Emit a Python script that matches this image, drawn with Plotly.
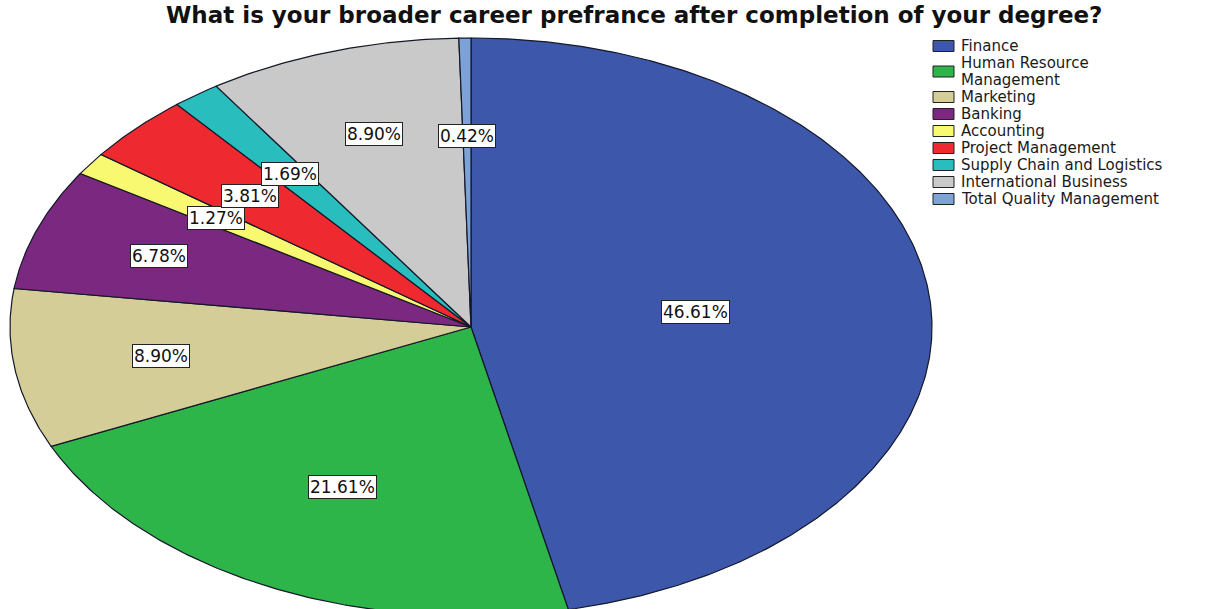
import numpy as np
import plotly.graph_objects as go

# Career preference shares (% of respondents)
categories = [
    "Finance",
    "Human Resource Management",
    "Marketing",
    "Banking",
    "Accounting",
    "Project Management",
    "Supply Chain and Logistics",
    "International Business",
    "Total Quality Management",
]
shares = [46.61, 21.61, 8.90, 6.78, 1.27, 3.81, 1.69, 8.90, 0.42]

title_text = "What is your broader career prefrance after completion of your degree?"

# Styling
colors = ["#3D57AB", "#2DB54A", "#D4CD97", "#7A2880", "#F9F871",
          "#EE2A30", "#2ABDBE", "#C9C9C9", "#7CA2D8"]
edge_color = "#141828"
label_radius = [0.49, 0.62, 0.68, 0.72, 0.67, 0.66, 0.66, 0.70, 0.66]

W, H = 1222, 609
CX, CY = 471, 327          # pie centre (axis units = pixels)
RX, RY = 461, 289          # elliptical radii
FONT = "DejaVu Sans"

fig = go.Figure()

total = sum(shares)
start = 0.0
label_pos = []
for name, val, col, lr in zip(categories, shares, colors, label_radius):
    a0 = start / total * 2 * np.pi
    a1 = (start + val) / total * 2 * np.pi
    t = np.linspace(a0, a1, max(int(val * 8), 4))
    xs = np.concatenate([[CX], CX + RX * np.sin(t), [CX]])
    ys = np.concatenate([[CY], CY - RY * np.cos(t), [CY]])
    fig.add_trace(go.Scatter(
        x=xs, y=ys, mode="lines", fill="toself", fillcolor=col,
        line=dict(color=edge_color, width=1.2), name=name,
        showlegend=False, hoverinfo="name",
    ))
    mid = (a0 + a1) / 2
    label_pos.append((CX + lr * RX * np.sin(mid), CY - lr * RY * np.cos(mid)))
    start += val

# Percentage labels in boxed callouts
for val, (lx, ly) in zip(shares, label_pos):
    fig.add_annotation(
        x=lx, y=ly, xref="x", yref="y", text=f"{val:.2f}%", showarrow=False,
        font=dict(family=FONT, size=17, color="#111111"),
        bgcolor="white", bordercolor="#222222", borderwidth=1, borderpad=1,
    )

# Legend drawn as swatches + text, one text line every 17 px
LINE = 17
sw_x0, sw_x1, text_x = 933, 954, 959
y_cursor = 46
for name, col in zip(categories, colors):
    lines = ["Human Resource", "Management"] if name == "Human Resource Management" else [name]
    yc = y_cursor + (len(lines) - 1) * LINE / 2
    fig.add_shape(type="rect", xref="x", yref="y",
                  x0=sw_x0, x1=sw_x1, y0=yc - 5.5, y1=yc + 5.5,
                  fillcolor=col, line=dict(color="#222222", width=1))
    for txt in lines:
        fig.add_annotation(x=text_x, y=y_cursor, xref="x", yref="y", text=txt,
                           showarrow=False, xanchor="left", yanchor="middle",
                           font=dict(family=FONT, size=15, color="#1a1a1a"))
        y_cursor += LINE

fig.add_annotation(
    x=633.5, y=15, xref="x", yref="y", text=f"<b>{title_text}</b>",
    showarrow=False, xanchor="center", yanchor="middle",
    font=dict(family=FONT, size=23, color="#111111"),
)

fig.update_layout(
    width=W, height=H, margin=dict(l=0, r=0, t=0, b=0),
    paper_bgcolor="white", plot_bgcolor="white",
    xaxis=dict(range=[0, W], visible=False, fixedrange=True),
    yaxis=dict(range=[H, 0], visible=False, fixedrange=True),
    showlegend=False,
)

fig.write_html("out.html")
